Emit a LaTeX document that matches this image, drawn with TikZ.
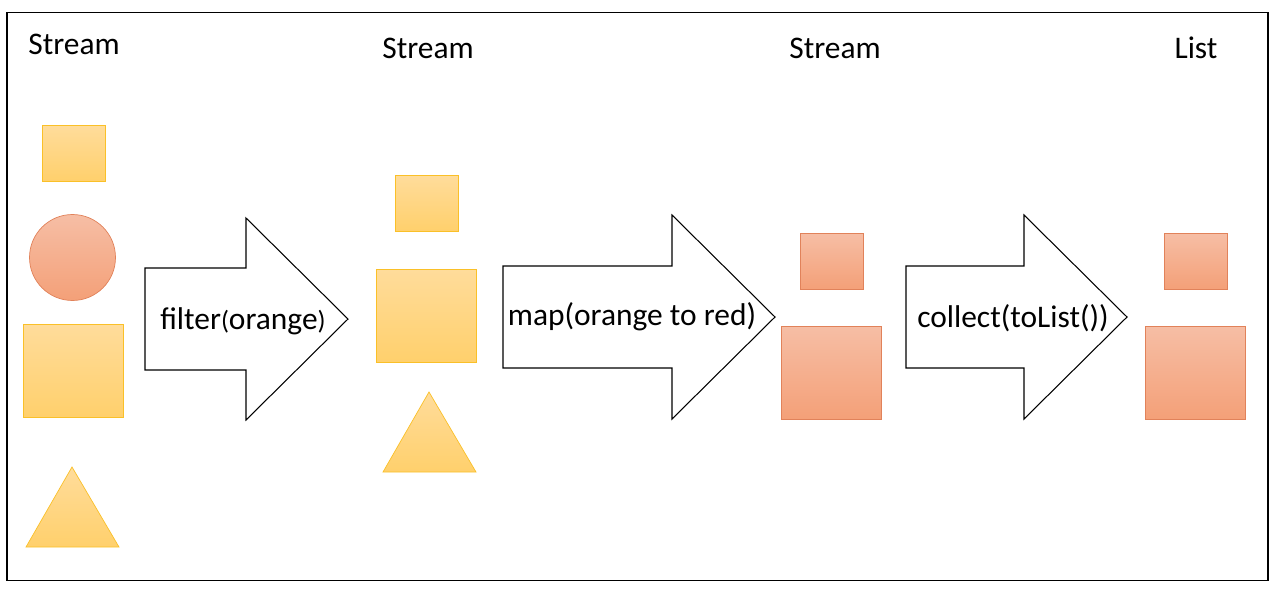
\documentclass[tikz,border=0pt]{standalone}
\usepackage{fontspec}
\setmainfont{Carlito}
\usepackage{tikz}

\definecolor{ylwtop}{RGB}{255,220,155}
\definecolor{ylwbot}{RGB}{255,208,108}
\definecolor{ylwline}{RGB}{250,192,40}
\definecolor{redtop}{RGB}{246,190,165}
\definecolor{redbot}{RGB}{244,160,120}
\definecolor{redline}{RGB}{225,130,90}

\begin{document}
\begin{tikzpicture}[x=0.02cm,y=-0.02cm,
    txt/.style ={font=\fontsize{17.9}{20}\selectfont, inner sep=0pt},
    ylw/.style ={draw=ylwline, top color=ylwtop, bottom color=ylwbot, inner sep=0pt},
    rd/.style ={draw=redline, top color=redtop, bottom color=redbot, inner sep=0pt},
    smallsq/.style ={minimum width=1.26cm, minimum height=1.12cm},
    bigsq/.style ={minimum width=2cm, minimum height=1.86cm},
    pipe/.style ={draw=black, line width=0.6pt, fill=white, line join=miter}]
   \useasboundingbox (0,0) rectangle (1277,595);
   \draw[line width=0.8pt] (7,12.5) rectangle (1268,580.5);

   % headings
   \node[txt] (h1) at (74,44) {Stream};
   \node[txt] (h2) at (428,48) {Stream};
   \node[txt] (h3) at (835,48) {Stream};
   \node[txt] (h4) at (1196,48) {List};

   % first stream
   \node[ylw,smallsq] (a1) at (73.5,153) {};
   \node[rd,circle,minimum size=1.72cm] (a2) at (72.5,257.5) {};
   \node[ylw,bigsq] (a3) at (73,370.5) {};
   \shade[ylw] (72,467) -- (119,547) -- (26,547) -- cycle;

   % second stream
   \node[ylw,smallsq] (b1) at (426.5,203) {};
   \node[ylw,bigsq] (b2) at (426,315.5) {};
   \shade[ylw] (429,392) -- (476,472) -- (383,472) -- cycle;

   % third stream
   \node[rd,smallsq] (c1) at (831.5,261) {};
   \node[rd,bigsq] (c2) at (831,372.5) {};

   % list
   \node[rd,smallsq] (d1) at (1195.5,261) {};
   \node[rd,bigsq] (d2) at (1195,372.5) {};

   % operations
   \draw[pipe] (145,268) -- (246,268) -- (246,218) -- (348,319) -- (246,420) -- (246,370) -- (145,370) -- cycle;
   \node[txt] (op1) at (243,321) {filter{\fontsize{15}{18}\selectfont(}orange{\fontsize{15}{18}\selectfont)}};

   \draw[pipe] (503,266) -- (672,266) -- (672,215) -- (775,317) -- (672,419) -- (672,368) -- (503,368) -- cycle;
   \node[txt] (op2) at (632,317) {map(orange to red)};

   \draw[pipe] (906,266) -- (1024,266) -- (1024,215) -- (1127,317) -- (1024,419) -- (1024,368) -- (906,368) -- cycle;
   \node[txt] (op3) at (1013,318) {collect(toList())};
 \end{tikzpicture}
\end{document}
